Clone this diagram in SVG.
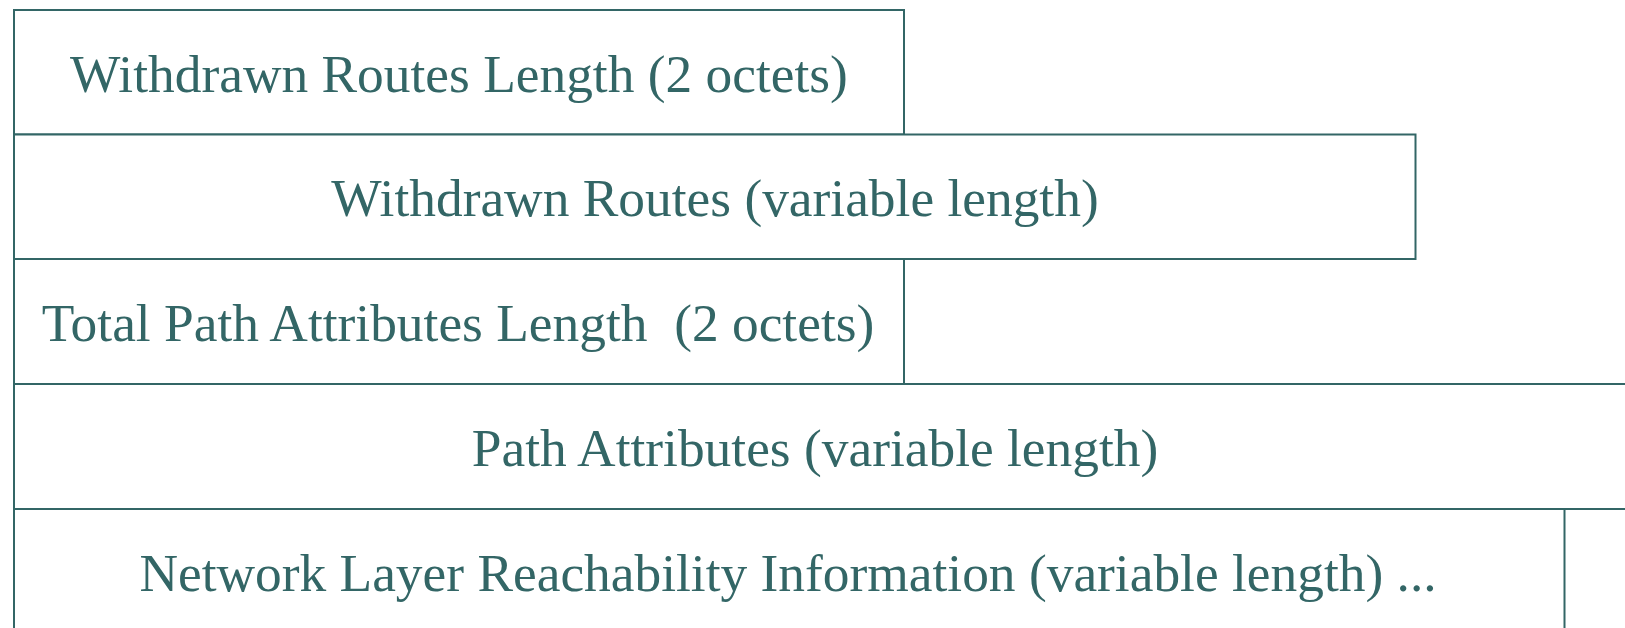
<svg xmlns="http://www.w3.org/2000/svg" width="1625" height="628" viewBox="0 0 1625 628">
<style>
.box{fill:#ffffff;stroke:#336666;stroke-width:2}
.lbl{font-family:"Liberation Serif","Times New Roman",serif;font-size:53.4px;fill:#336666;text-anchor:middle;white-space:pre}
</style>
<rect width="1625" height="628" fill="#ffffff"/>
<g id="withdrawn-len">
<rect class="box" x="14" y="10" width="890" height="124.5"/>
<text class="lbl" x="459" y="92">Withdrawn Routes Length (2 octets)</text>
</g>
<g id="withdrawn-routes">
<rect class="box" x="14" y="134.5" width="1401.5" height="124.5"/>
<text class="lbl" x="715" y="216">Withdrawn Routes (variable length)</text>
</g>
<g id="total-path-len">
<rect class="box" x="14" y="259" width="890" height="125"/>
<text class="lbl" x="458" y="341" xml:space="preserve">Total Path Attributes Length  (2 octets)</text>
</g>
<g id="path-attrs">
<rect class="box" x="14" y="384" width="1630" height="125"/>
<text class="lbl" x="815" y="466">Path Attributes (variable length)</text>
</g>
<g id="nlri">
<rect class="box" x="14" y="509" width="1550.5" height="140"/>
<text class="lbl" x="788" y="591">Network Layer Reachability Information (variable length) ...</text>
</g>
</svg>
